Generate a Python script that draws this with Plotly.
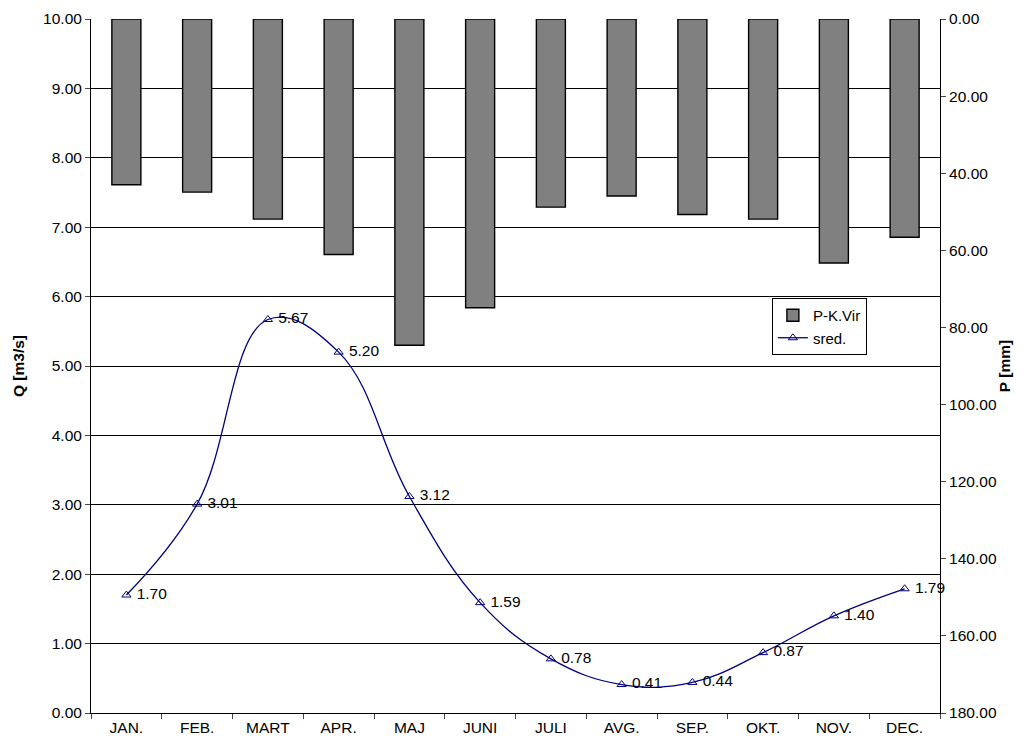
import plotly.graph_objects as go

months = ["JAN.", "FEB.", "MART", "APR.", "MAJ", "JUNI", "JULI", "AVG.", "SEP.", "OKT.", "NOV.", "DEC."]
precip_mm = [43.0, 44.9, 51.9, 61.1, 84.6, 74.9, 48.8, 45.9, 50.7, 51.9, 63.3, 56.6]
flow_q = [1.70, 3.01, 5.67, 5.20, 3.12, 1.59, 0.78, 0.41, 0.44, 0.87, 1.40, 1.79]

FONT = "Liberation Sans, Arial, sans-serif"
FS = 15.5

fig = go.Figure()
fig.add_trace(go.Bar(
    x=months, y=precip_mm, name="P-K.Vir", yaxis="y2",
    marker=dict(color="#808080", line=dict(color="#000000", width=1.4)),
    width=0.41,
))
fig.add_trace(go.Scatter(
    x=months, y=flow_q, name="sred.", mode="lines+markers+text",
    line=dict(color="#000080", width=1.3, shape="spline", smoothing=1.15),
    marker=dict(symbol="triangle-up-open", size=8, color="#000080", line=dict(width=1)),
    text=[f"\u00a0{v:.2f}" for v in flow_q], textposition="middle right",
    textfont=dict(family=FONT, size=FS, color="#000000"),
    cliponaxis=False,
))

fig.update_layout(
    width=1016, height=733,
    margin=dict(l=83, r=84, t=11, b=28),
    paper_bgcolor="white", plot_bgcolor="white",
    font=dict(family=FONT, size=FS, color="#000000"),
    showlegend=True,
    legend=dict(x=0.802, y=0.598, xanchor="left", yanchor="top",
                bordercolor="#000000", borderwidth=1, bgcolor="white",
                font=dict(family=FONT, size=15), tracegroupgap=0,
                itemwidth=30),
    xaxis=dict(type="category", range=[-0.5, 11.5], tickson="boundaries",
               ticks="outside", ticklen=5,
               showline=True, linecolor="#000000", linewidth=1, showgrid=False,
               tickfont=dict(size=FS), automargin=False),
    yaxis=dict(range=[0, 10], dtick=1, tickformat=".2f", showgrid=True,
               gridcolor="#000000", gridwidth=1, showline=True, linecolor="#000000",
               ticks="outside", ticklen=5, zeroline=False, automargin=False,
               title=dict(text="<b>Q [m3/s]</b>", font=dict(size=FS), standoff=14)),
    yaxis2=dict(range=[180, 0], dtick=20, tickformat=".2f", overlaying="y", side="right",
                showgrid=False, showline=True, linecolor="#000000", ticks="outside",
                ticklen=5, zeroline=False, automargin=False,
                title=dict(text="<b>P [mm]</b>", font=dict(size=FS), standoff=3)),
)

fig.write_html("out.html")
